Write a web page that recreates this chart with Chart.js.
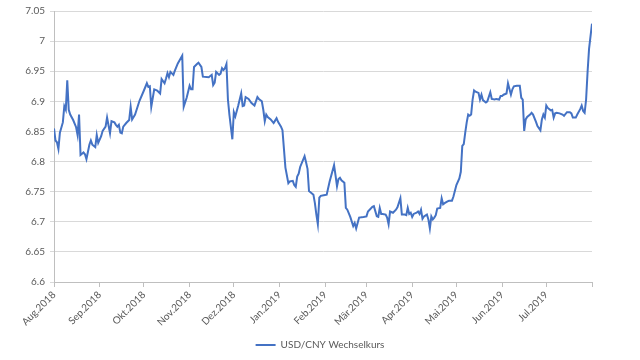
<!DOCTYPE html>
<html>
<head>
<meta charset="utf-8">
<script src="https://cdn.jsdelivr.net/npm/chart.js@4.4.1/dist/chart.umd.min.js"></script>
<style>
html,body{margin:0;padding:0;background:#fff;}
#wrap{width:640px;height:360px;}
</style>
</head>
<body>
<div id="wrap"><canvas id="c" width="640" height="360"></canvas></div>
<script>
// Days since 2018-08-01
const days = [0,1,2,3,4,6,7,8,9,10,11,13,15,16,17,18,19,20,21,22,24,25,26,28,29,30,32,33,35,36,38,39,41,42,43,44,45,46,47,49,51,52,53,55,58,61,63,64,65,66,68,70,72,73,75,76,77,78,79,81,82,84,87,88,90,92,93,94,95,97,98,
100,101,105,107,108,109,110,112,113,114,115,116,117,118,119,121,122,123,125,127,128,129,130,132,134,136,138,139,141,142,143,144,145,147,149,150,151,152,154,155,156,157,159,160,162,163,164,165,166,167,170,171,172,173,174,176,177,178,179,180,181,183,185,187,190,191,192,193,194,195,197,198,199,201,203,204,205,206,207,210,212,213,216,217,219,220,221,222,223,225,226,227,228,230,232,233,235,
236,238,239,240,241,242,243,244,246,247,248,249,250,251,253,254,255,256,257,258,259,260,262,263,264,265,267,268,270,271,273,275,276,277,278,279,280,281,282,283,284,285,286,288,289,290,291,293,294,296,297,299,300,302,303,304,305,307,308,310,311,312,314,316,317,318,319,320,321,323,324,325,327,328,330,331,332,333,334,335,337,338,339,340,341,343,345,346,348,350,351,352,354,355,357,358,359,360,361,362,363,365];
const rates = [6.855,6.835,6.832,6.821,6.848,6.865,6.892,6.886,6.935,6.886,6.878,6.869,6.857,6.844,6.878,6.811,6.813,6.815,6.812,6.804,6.828,6.835,6.828,6.824,6.844,6.831,6.842,6.851,6.858,6.873,6.847,6.867,6.865,6.861,6.858,6.861,6.848,6.847,6.858,6.864,6.869,6.891,6.870,6.878,6.901,6.918,6.930,6.924,6.925,6.891,6.920,6.918,6.913,6.937,6.930,6.938,6.947,6.940,6.949,6.944,6.951,6.963,6.976,6.891,6.906,6.926,6.920,6.920,6.957,6.962,6.964,
6.957,6.941,6.940,6.944,6.927,6.931,6.949,6.944,6.946,6.955,6.952,6.955,6.962,6.903,6.878,6.837,6.882,6.875,6.893,6.913,6.892,6.893,6.907,6.904,6.897,6.893,6.907,6.904,6.900,6.886,6.867,6.878,6.874,6.870,6.864,6.868,6.872,6.866,6.858,6.852,6.821,6.790,6.764,6.767,6.768,6.761,6.758,6.775,6.780,6.791,6.809,6.799,6.788,6.751,6.749,6.745,6.731,6.712,6.696,6.740,6.743,6.744,6.745,6.767,6.794,6.777,6.759,6.771,6.773,6.769,6.765,6.723,6.720,6.708,6.693,6.698,6.689,6.698,6.707,6.708,6.709,6.717,6.725,6.726,6.709,6.708,6.723,6.713,6.713,6.712,6.707,6.696,6.717,6.715,6.720,6.724,6.739,
6.712,6.712,6.711,6.723,6.713,6.715,6.708,6.713,6.715,6.717,6.713,6.720,6.705,6.709,6.712,6.704,6.689,6.709,6.704,6.707,6.711,6.722,6.723,6.739,6.729,6.731,6.734,6.735,6.735,6.742,6.761,6.772,6.783,6.826,6.829,6.848,6.865,6.878,6.876,6.878,6.903,6.918,6.916,6.914,6.903,6.911,6.902,6.898,6.900,6.915,6.904,6.903,6.904,6.903,6.909,6.909,6.911,6.913,6.930,6.911,6.920,6.925,6.926,6.926,6.906,6.903,6.851,6.870,6.874,6.878,6.881,6.878,6.866,6.859,6.852,6.870,6.878,6.873,6.893,6.889,6.885,6.886,6.873,6.880,6.881,6.880,6.878,6.876,6.882,6.882,6.880,6.873,6.873,6.878,6.887,6.893,6.884,6.881,6.903,6.949,6.987,7.029];

const monthStarts = [0,31,61,92,122,153,184,212,243,273,304,334,365];
const monthLabels = ['Aug.2018','Sep.2018','Okt.2018','Nov.2018','Dez.2018','Jan.2019','Feb.2019','Mär.2019','Apr.2019','Mai.2019','Jun.2019','Jul.2019',''];
const yTicks = [6.6,6.65,6.7,6.75,6.8,6.85,6.9,6.95,7,7.05];
const yTickLabels = ['6.6','6.65','6.7','6.75','6.8','6.85','6.9','6.95','7','7.05'];
const seriesName = 'USD/CNY Wechselkurs';

const points = days.map((d,i)=>({x:d,y:rates[i]}));
const textColor = '#595959';
const fontFam = "Lato, 'Open Sans', sans-serif";

new Chart(document.getElementById('c'), {
  type: 'line',
  data: {
    datasets: [{
      label: seriesName,
      data: points,
      borderColor: '#4472C4',
      backgroundColor: '#4472C4',
      borderWidth: 2,
      pointRadius: 0,
      tension: 0
    }]
  },
  options: {
    responsive: false,
    animation: false,
    devicePixelRatio: 1,
    layout: { padding: { left: 0, right: 0, top: 10, bottom: 0 } },
    plugins: {
      legend: {
        position: 'bottom',
        labels: {
          usePointStyle: true,
          pointStyle: 'line',
          pointStyleWidth: 20,
          padding: 7,
          color: textColor,
          font: { family: fontFam, size: 10 }
        }
      },
      tooltip: { enabled: false }
    },
    scales: {
      x: {
        type: 'linear',
        min: 0,
        max: 365,
        afterBuildTicks: (s) => { s.ticks = monthStarts.map(v => ({ value: v })); },
        afterFit: (s) => { s.height = 51; },
        ticks: {
          autoSkip: false,
          minRotation: 45,
          maxRotation: 45,
          padding: 2,
          color: textColor,
          font: { family: fontFam, size: 10 },
          callback: (v) => monthLabels[monthStarts.indexOf(v)]
        },
        grid: { drawOnChartArea: false, drawTicks: true, tickLength: 5, color: '#bfbfbf' },
        border: { color: '#bfbfbf', width: 1 }
      },
      y: {
        min: 6.6,
        max: 7.05,
        afterBuildTicks: (s) => { s.ticks = yTicks.map(v => ({ value: v })); },
        afterFit: (s) => { s.width = 54; },
        ticks: {
          padding: 5,
          color: textColor,
          font: { family: fontFam, size: 10 },
          callback: (v, i) => yTickLabels[i]
        },
        grid: { color: '#d9d9d9', tickLength: 4, drawTicks: true },
        border: { color: '#bfbfbf', width: 1 }
      },
      yRight: {
        type: 'linear',
        axis: 'y',
        position: 'right',
        min: 6.6,
        max: 7.05,
        afterFit: (s) => { s.width = 48; },
        ticks: { display: false },
        grid: { display: false, drawTicks: false },
        border: { display: false }
      }
    }
  }
});
</script>
</body>
</html>
